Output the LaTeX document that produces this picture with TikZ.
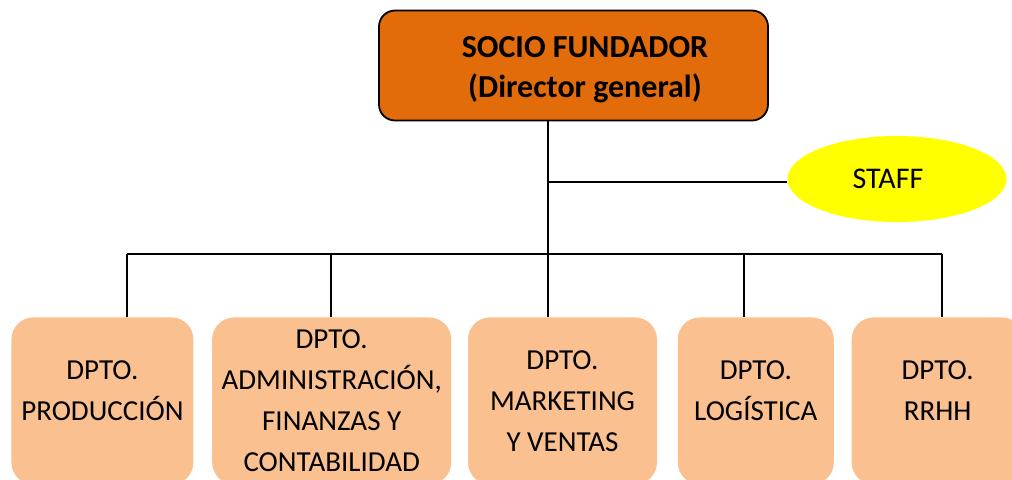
\documentclass[tikz,border=0pt]{standalone}
\usepackage{fontspec}
\setmainfont{Carlito}
\usepackage{tikz}
\usetikzlibrary{positioning,shapes.geometric}
\definecolor{naranja}{HTML}{E36C0A}
\definecolor{salmon}{HTML}{FAC090}
\definecolor{amarillo}{HTML}{FFFF00}
\newcommand{\letra}{\fontsize{14.5}{20.5}\selectfont}
\tikzset{
  jefe/.style={rectangle, rounded corners=8pt, draw=black, line width=0.9pt, fill=naranja,
    minimum width=194.5pt, minimum height=55pt, align=center, text height=35pt,
    font=\fontsize{16}{20}\selectfont\bfseries},
  dpto/.style={rectangle, rounded corners=11pt, fill=salmon, minimum height=83.5pt,
    inner sep=0pt, align=center, font=\letra},
  doslineas/.style={text depth=10pt},
  apoyo/.style={ellipse, fill=amarillo, minimum width=109.5pt, minimum height=43pt, inner sep=0pt,
    font=\fontsize{15}{20}\selectfont},
  linea/.style={draw=black, line width=0.9pt},
}

\begin{document}
\begin{tikzpicture}[x=0.5pt, y=-0.5pt, node distance=9pt]
    \useasboundingbox (0,0) rectangle (1012,479);
    \clip (0,0) rectangle (1012,479);
    \node[jefe] (socio) at (573.5,65.5) {\hspace*{11.5pt}SOCIO FUNDADOR\\\hspace*{11.5pt}(Director general)};
    \node[apoyo] (staff) at (897,179) {STAFF\hspace*{9pt}};
    \node[dpto, doslineas, minimum width=91pt, anchor=north west] (d1) at (11,317) {DPTO.\\PRODUCCIÓN};
    \node[dpto, minimum width=119.5pt, right=of d1] (d2) {DPTO.\\ADMINISTRACIÓN,\\FINANZAS Y\\CONTABILIDAD};
    \node[dpto, minimum width=94.5pt, right=8pt of d2] (d3) {DPTO.\\MARKETING\\Y VENTAS};
    \node[dpto, doslineas, minimum width=78pt, right=10pt of d3] (d4) {DPTO.\\LOGÍSTICA};
    \node[dpto, doslineas, minimum width=86pt, right=8.5pt of d4] (d5) {DPTO.\\RRHH};
    \coordinate (b1) at (127,254);
    \coordinate (b2) at (331,254);
    \coordinate (b3) at (548,254);
    \coordinate (b4) at (744,254);
    \coordinate (b5) at (942,254);
    \coordinate (rama) at (548,182);
    \draw[linea] (socio.south -| b3) -- (b3 |- d3.north);
    \draw[linea] (rama) -- (rama -| staff.west);
    \draw[linea] (b1) -- (b5);
    \draw[linea] (b1) -- (b1 |- d1.north);
    \draw[linea] (b2) -- (b2 |- d2.north);
    \draw[linea] (b4) -- (b4 |- d4.north);
    \draw[linea] (b5) -- (b5 |- d5.north);
\end{tikzpicture}
\end{document}
